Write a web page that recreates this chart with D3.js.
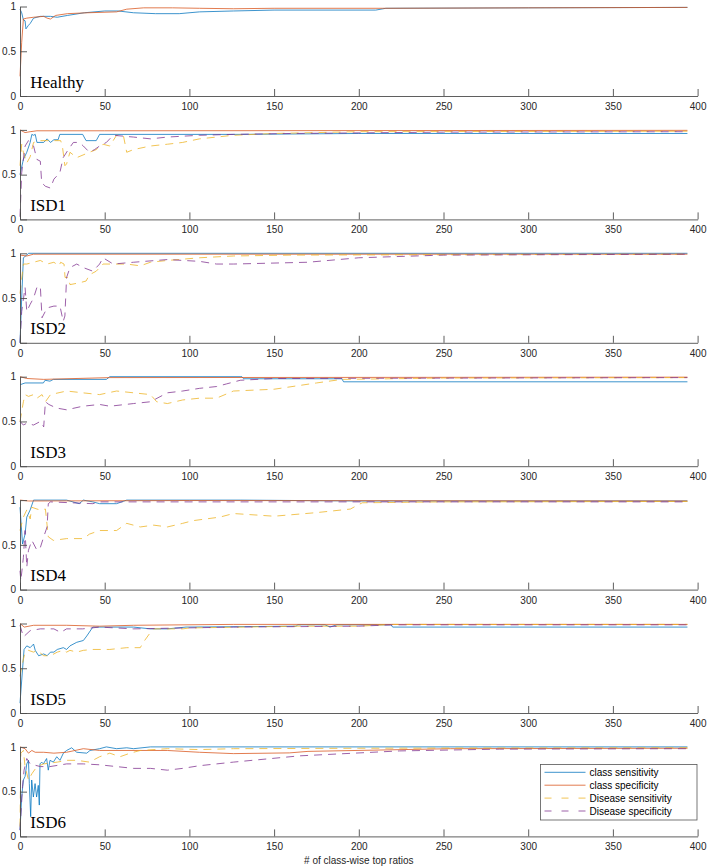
<!DOCTYPE html>
<html>
<head>
<meta charset="utf-8">
<script src="https://cdn.jsdelivr.net/npm/d3@7"></script>
<style>
  body { margin: 0; background: #fff; }
  svg { display: block; }
</style>
</head>
<body>
<script>
// panel titles
const panelNames = ["Healthy", "ISD1", "ISD2", "ISD3", "ISD4", "ISD5", "ISD6"];
const xTicks = [0, 50, 100, 150, 200, 250, 300, 350, 400];
const yTicks = [0, 0.5, 1];
const seriesNames = ["class sensitivity", "class specificity", "Disease sensitivity", "Disease specificity"];

// [x, y] pairs
const classSens = [
  [[0,0.97],[1,0.93],[2,0.85],[3,0.84],[3.5,0.75],[5,0.79],[6,0.81],[8,0.87],[10,0.88],[12,0.89],[18,0.89],[22,0.88],[28,0.9],[38,0.93],[50,0.95],[58,0.95],[67,0.93],[80,0.92],[94,0.92],[106,0.94],[126,0.95],[150,0.96],[210,0.96],[216,0.98],[300,0.985],[394,0.99]],
  [[0,0.5],[2,0.67],[4,0.75],[6,0.86],[7,0.95],[8,0.94],[9,0.95],[10,0.86],[14,0.86],[16,0.9],[18,0.86],[20,0.89],[22.5,0.89],[23.5,0.95],[37,0.95],[39,0.88],[45,0.88],[47,0.95],[130,0.95],[200,0.96],[394,0.96]],
  [[0,0],[1,0.5],[2,0.95],[4,0.98],[5,1.0],[394,1.0]],
  [[0,0.91],[3,0.93],[13.8,0.93],[14.8,0.96],[17.7,0.95],[19.7,0.97],[51,0.97],[53,1.0],[131,1.0],[132,0.977],[190,0.977],[191,0.943],[394,0.943]],
  [[0,0.92],[1.5,0.51],[3,0.62],[4,0.81],[6,0.89],[8,1.0],[27.5,1.0],[35,0.96],[37.4,1.0],[43,0.98],[47,0.96],[57,0.96],[63,1.0],[130,1.0],[200,0.99],[394,0.99]],
  [[0,0.11],[1.5,0.49],[2.4,0.71],[4,0.75],[6,0.73],[8,0.77],[9,0.7],[11,0.64],[14,0.66],[16,0.64],[18,0.68],[20,0.68],[22,0.71],[25.6,0.73],[27.5,0.71],[29.5,0.75],[33.5,0.79],[37.4,0.81],[39.4,0.86],[43,0.96],[67,0.96],[77,0.94],[87,0.94],[98,0.96],[163,0.97],[164,0.985],[180,0.985],[183,0.96],[187,0.985],[219,0.985],[220,0.96],[394,0.96]],
  [[0,0.07],[1,0.44],[2,0.63],[3,0.67],[4,0.81],[5,0.85],[5.5,0.59],[6.3,0.22],[6.9,0.63],[7.9,0.44],[8.9,0.59],[9.8,0.44],[10.8,0.57],[11.4,0.35],[11.8,0.81],[12.8,0.83],[13.8,0.81],[15.7,0.87],[16.7,0.74],[17.7,0.85],[19.7,0.83],[21.7,0.89],[23.6,0.85],[25.6,0.93],[27.5,0.96],[29.5,0.98],[30.5,0.99],[33.5,0.94],[39.4,0.93],[41.3,0.96],[47,0.98],[51,1.0],[57,0.98],[63,0.99],[67,0.98],[77,1.0],[394,1.0]]
];
const classSpec = [
  [[0,0.22],[1,0.6],[2,0.86],[4,0.87],[8,0.88],[14,0.89],[16,0.87],[18,0.86],[21,0.9],[28,0.92],[40,0.93],[57,0.94],[63,0.97],[73,0.985],[90,0.985],[106,0.98],[126,0.975],[150,0.98],[214,0.98],[300,0.985],[394,0.99]],
  [[0,1.0],[2,0.98],[3,0.97],[6,0.98],[10,0.99],[50,0.99],[394,0.995]],
  [[0,0.98],[4,0.97],[8,0.99],[394,0.99]],
  [[0,1.0],[4,0.98],[14,0.97],[53,0.99],[394,0.995]],
  [[0,1.0],[5,0.99],[100,0.995],[394,0.99]],
  [[0,1.0],[2.5,0.96],[8,0.98],[27.5,0.98],[47,0.97],[67,0.98],[126,0.99],[394,0.99]],
  [[0,1.0],[3,0.98],[5,0.93],[7,0.96],[9,0.94],[14,0.94],[20,0.93],[27.5,0.94],[37.4,0.98],[47,0.96],[87,0.96],[106,0.94],[126,0.925],[159,0.933],[170,0.95],[254,0.98],[394,0.985]]
];
const diseaseSens = [
  null,
  [[0,0.6],[1,0.84],[2,0.75],[4,0.63],[6,0.7],[8,0.86],[12,0.88],[24,0.88],[25,0.82],[26.5,0.6],[27.5,0.62],[29.5,0.75],[33.5,0.69],[36,0.71],[41,0.75],[45,0.78],[49,0.84],[53,0.82],[57,0.94],[61,0.94],[63,0.75],[67,0.78],[77,0.82],[87,0.84],[96,0.86],[106,0.9],[116,0.92],[126,0.94],[150,0.96],[200,0.98],[394,0.985]],
  [[0,0.55],[2,0.88],[4,0.88],[8,0.9],[12,0.92],[16,0.88],[20,0.9],[23,0.86],[24,0.9],[26,0.88],[26.6,0.73],[28.5,0.73],[29.5,0.65],[35,0.67],[39,0.69],[41,0.76],[45,0.8],[49,0.88],[63,0.88],[71,0.86],[77,0.9],[87,0.92],[106,0.95],[126,0.97],[160,0.98],[394,0.99]],
  [[0,0.5],[2,0.72],[3,0.8],[5,0.78],[8,0.8],[10,0.76],[13,0.8],[15,0.72],[18,0.8],[27.5,0.84],[37,0.82],[47,0.8],[57,0.84],[67,0.82],[77,0.8],[80.7,0.72],[87,0.7],[96,0.74],[106,0.76],[116,0.76],[126,0.84],[150,0.86],[175,0.93],[190,0.97],[250,0.985],[394,0.99]],
  [[0,0.66],[2,0.81],[4,0.89],[6,0.79],[7,0.92],[10,0.9],[12,0.89],[15,0.9],[16.7,0.59],[19.7,0.55],[27.5,0.57],[37.4,0.57],[41,0.62],[47,0.66],[57,0.66],[63,0.74],[71,0.7],[79,0.72],[87,0.7],[96,0.74],[102,0.77],[110,0.79],[118,0.81],[126,0.85],[150,0.82],[175,0.86],[195,0.9],[202,0.97],[250,0.98],[394,0.985]],
  [[0,0.41],[1.5,0.56],[3,0.68],[5,0.7],[8,0.68],[10,0.7],[14,0.64],[18,0.64],[22,0.68],[25.6,0.7],[27.5,0.68],[29.5,0.7],[33.5,0.68],[37.4,0.7],[43,0.71],[53,0.71],[63,0.73],[71,0.73],[72.8,0.79],[77,0.9],[79,0.94],[96,0.94],[100,0.95],[163,0.97],[200,0.97],[220,0.99],[394,0.99]],
  [[0,0.11],[0.5,0.93],[2,0.96],[3,0.78],[5,0.63],[7,0.7],[10,0.78],[14,0.81],[22,0.83],[27.5,0.85],[33.5,0.85],[41,0.83],[47,0.89],[53,0.93],[59,0.89],[65,0.93],[71,0.96],[87,0.98],[106,0.97],[126,0.98],[200,0.985],[394,0.99]]
];
const diseaseSpec = [
  null,
  [[0,0.03],[1,0.52],[3,0.82],[5,0.88],[8,0.82],[10,0.67],[12,0.65],[12.8,0.41],[15,0.37],[18,0.35],[20,0.45],[23.5,0.52],[25.5,0.69],[28.5,0.78],[31.5,0.86],[35,0.86],[37.4,0.82],[41,0.75],[44,0.78],[47,0.82],[51,0.86],[55,0.94],[67,0.92],[77,0.9],[87,0.92],[106,0.94],[126,0.95],[160,0.96],[250,0.975],[394,0.98]],
  [[0,0],[1,0.35],[3,0.62],[4,0.35],[6,0.43],[8,0.5],[10,0.62],[12,0.63],[13,0.28],[16,0.39],[20,0.41],[23.6,0.41],[25.5,0.24],[26.5,0.3],[27.5,0.73],[29.5,0.84],[33.5,0.88],[37.4,0.84],[43,0.8],[47,0.88],[49,0.95],[55,0.88],[67,0.9],[87,0.93],[106,0.91],[116,0.88],[126,0.88],[170,0.9],[200,0.95],[250,0.98],[394,0.99]],
  [[0,0.5],[2,0.46],[4,0.48],[8,0.46],[12,0.5],[14,0.44],[15,0.72],[17,0.69],[21.5,0.65],[27.5,0.63],[37,0.67],[47,0.69],[53,0.67],[67,0.7],[77,0.72],[87,0.82],[96,0.84],[106,0.87],[116,0.89],[122,0.92],[130,0.96],[150,0.98],[394,0.99]],
  [[0,0.21],[0.5,0.1],[2,0.36],[3,0.66],[4,0.25],[5,0.44],[7,0.55],[10,0.44],[12,0.47],[14,0.59],[16,0.7],[16.7,0.96],[18,0.98],[43,0.96],[47,0.98],[394,0.98]],
  [[0,0.98],[2,0.85],[6,0.92],[12,0.94],[20,0.94],[24,0.9],[27.5,0.94],[37,0.94],[47,0.96],[67,0.94],[126,0.96],[200,0.97],[220,0.985],[394,0.985]],
  [[0,0.07],[1.5,0.56],[2.4,0.74],[4,0.87],[6,0.81],[12,0.78],[17.7,0.78],[27.5,0.81],[37.4,0.81],[47,0.8],[57,0.78],[67,0.76],[77,0.76],[87,0.74],[96,0.76],[106,0.79],[126,0.83],[165,0.9],[224,0.955],[283,0.975],[394,0.98]]
];

const allSeries = [classSens, classSpec, diseaseSens, diseaseSpec];
const colors = ["#0072BD", "#D95319", "#EDB120", "#7E2F8E"];
const dashes = [null, null, "8,6", "8,6"];

const width = 709, height = 867;
const left = 20, right = 697.6;
const panelTop = 6.5, panelStep = 123.4, panelH = 89.5;
const axisColor = "#4d4d4d";
const tickLen = 7;

const svg = d3.select("body").append("svg")
  .attr("width", width)
  .attr("height", height)
  .style("font-family", "'Liberation Sans', Arial, sans-serif");

const x = d3.scaleLinear().domain([0, 400]).range([left, right]);

const line = d3.line()
  .x(function(d) { return x(d[0]); });

panelNames.forEach(function(name, i) {
  let top = panelTop + i * panelStep;
  let y = d3.scaleLinear().domain([0, 1]).range([top + panelH, top]);
  let g = svg.append("g");

  // data lines
  allSeries.forEach(function(s, k) {
    if (!s[i]) return;
    g.append("path")
      .attr("d", line.y(function(d) { return y(d[1]); })(s[i]))
      .attr("fill", "none")
      .attr("stroke", colors[k])
      .attr("stroke-width", 0.9)
      .attr("stroke-opacity", 0.85)
      .attr("stroke-dasharray", dashes[k]);
  });

  // x axis, ticks point inward
  let xa = g.append("g")
    .attr("transform", "translate(0," + y(0) + ")")
    .call(d3.axisBottom(x).tickValues(xTicks).tickSize(-tickLen).tickPadding(7).tickSizeOuter(0));
  // y axis, ticks point inward
  let ya = g.append("g")
    .attr("transform", "translate(" + left + ",0)")
    .call(d3.axisLeft(y).tickValues(yTicks).tickFormat(d3.format("")).tickSize(-tickLen).tickPadding(4).tickSizeOuter(0));

  [xa, ya].forEach(function(a) {
    a.select(".domain").attr("stroke", axisColor).attr("stroke-width", 0.9);
    a.selectAll(".tick line").attr("stroke", axisColor).attr("stroke-width", 0.9);
    a.selectAll(".tick text").attr("fill", "#262626").style("font-size", "10px")
      .style("font-family", "'Liberation Sans', Arial, sans-serif");
  });

  g.append("text")
    .attr("x", x(6))
    .attr("y", y(0) - 8.5)
    .attr("fill", "#000")
    .style("font-family", "'Liberation Serif', 'Times New Roman', serif")
    .style("font-size", "17px")
    .text(name);
});

// x label
svg.append("text")
  .attr("x", (left + right) / 2)
  .attr("y", 864)
  .attr("text-anchor", "middle")
  .attr("fill", "#262626")
  .style("font-size", "10px")
  .text("# of class-wise top ratios");

// legend
const lg = svg.append("g");
lg.append("rect")
  .attr("x", 540.5).attr("y", 764.5)
  .attr("width", 156.5).attr("height", 55.5)
  .attr("fill", "#fff")
  .attr("stroke", "#555")
  .attr("stroke-width", 0.8);

seriesNames.forEach(function(n, k) {
  let cy = 772.3 + k * 12.9;
  lg.append("line")
    .attr("x1", 544.5).attr("x2", 585.5)
    .attr("y1", cy).attr("y2", cy)
    .attr("stroke", colors[k])
    .attr("stroke-width", 0.9)
    .attr("stroke-opacity", 0.85)
    .attr("stroke-dasharray", dashes[k] ? "7,10" : null);
  lg.append("text")
    .attr("x", 589.5)
    .attr("y", cy + 3.6)
    .attr("fill", "#000")
    .style("font-size", "10px")
    .text(n);
});
</script>
</body>
</html>
